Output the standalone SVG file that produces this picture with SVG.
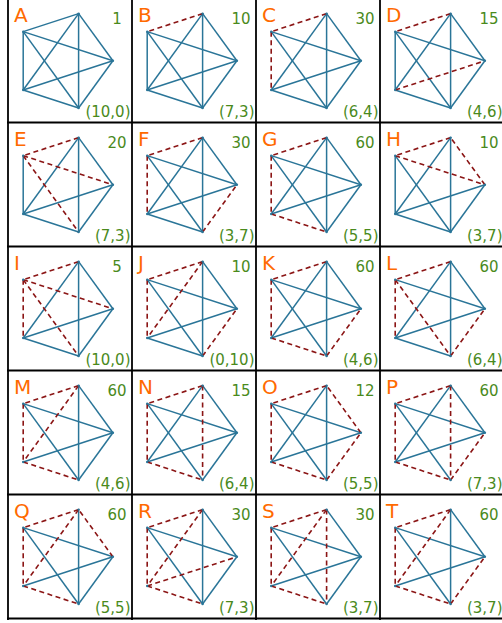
<svg xmlns="http://www.w3.org/2000/svg" xmlns:xlink="http://www.w3.org/1999/xlink" width="502" height="623" viewBox="0 0 502 623">
<style>
.grid line{stroke:#000;stroke-width:1.8}
.s{stroke:#2a7598;stroke-width:1.5;fill:none}
.d{stroke:#8b1515;stroke-width:1.6;stroke-dasharray:5 3.5;fill:none}
.lab{font-family:"DejaVu Sans",sans-serif;font-size:20px;fill:#ff6a00}
.num{font-family:"DejaVu Sans",sans-serif;font-size:15px;fill:#4a8a1c;text-anchor:middle}
.pr{font-family:"DejaVu Sans",sans-serif;font-size:15px;fill:#4a8a1c;text-anchor:end}
.v{fill:#2a7598}
</style>
<defs>
<line id="tu" x1="78.6" y1="13.6" x2="23.2" y2="31.65"/>
<line id="ul" x1="23.2" y1="31.65" x2="23.2" y2="89.95"/>
<line id="lb" x1="23.2" y1="89.95" x2="78.6" y2="108"/>
<line id="br" x1="78.6" y1="108" x2="112.9" y2="60.8"/>
<line id="rt" x1="112.9" y1="60.8" x2="78.6" y2="13.6"/>
<line id="tl" x1="78.6" y1="13.6" x2="23.2" y2="89.95"/>
<line id="tb" x1="78.6" y1="13.6" x2="78.6" y2="108"/>
<line id="ur" x1="23.2" y1="31.65" x2="112.9" y2="60.8"/>
<line id="uB" x1="23.2" y1="31.65" x2="78.6" y2="108"/>
<line id="lr" x1="23.2" y1="89.95" x2="112.9" y2="60.8"/>
<g id="dots" class="v">
<circle cx="78.6" cy="13.6" r="1.2"/><circle cx="23.2" cy="31.65" r="1.2"/><circle cx="23.2" cy="89.95" r="1.2"/><circle cx="78.6" cy="108" r="1.2"/><circle cx="112.9" cy="60.8" r="1.2"/>
</g>
</defs>
<rect width="502" height="623" fill="#fff"/>
<g class="grid">
<line x1="8" y1="-2" x2="8" y2="620"/>
<line x1="132" y1="-2" x2="132" y2="620"/>
<line x1="256" y1="-2" x2="256" y2="620"/>
<line x1="380" y1="-2" x2="380" y2="620"/>
<line x1="7" y1="122.5" x2="502" y2="122.5"/>
<line x1="7" y1="246.5" x2="502" y2="246.5"/>
<line x1="7" y1="370.5" x2="502" y2="370.5"/>
<line x1="7" y1="494.5" x2="502" y2="494.5"/>
<line x1="7" y1="618.5" x2="502" y2="618.5"/>
</g>

<g id="cell-A" transform="translate(0,0)">
<g class="edges"><use href="#tu" class="s"/><use href="#ul" class="s"/><use href="#lb" class="s"/><use href="#br" class="s"/><use href="#rt" class="s"/><use href="#tl" class="s"/><use href="#tb" class="s"/><use href="#ur" class="s"/><use href="#uB" class="s"/><use href="#lr" class="s"/></g>
<use href="#dots"/>
<text class="lab" x="14" y="22">A</text><text class="num" x="117" y="24">1</text><text class="pr" x="130.5" y="117">(10,0)</text>
</g>

<g id="cell-B" transform="translate(124,0)">
<g class="edges"><use href="#ul" class="s"/><use href="#lb" class="s"/><use href="#br" class="s"/><use href="#rt" class="s"/><use href="#tl" class="s"/><use href="#tb" class="s"/><use href="#ur" class="s"/><use href="#uB" class="s"/><use href="#lr" class="s"/><use href="#tu" class="d"/></g>
<use href="#dots"/>
<text class="lab" x="14" y="22">B</text><text class="num" x="117" y="24">10</text><text class="pr" x="130.5" y="117">(7,3)</text>
</g>

<g id="cell-C" transform="translate(248,0)">
<g class="edges"><use href="#lb" class="s"/><use href="#br" class="s"/><use href="#rt" class="s"/><use href="#tl" class="s"/><use href="#tb" class="s"/><use href="#ur" class="s"/><use href="#uB" class="s"/><use href="#lr" class="s"/><use href="#tu" class="d"/><use href="#ul" class="d"/></g>
<use href="#dots"/>
<text class="lab" x="14" y="22">C</text><text class="num" x="117" y="24">30</text><text class="pr" x="130.5" y="117">(6,4)</text>
</g>

<g id="cell-D" transform="translate(372,0)">
<g class="edges"><use href="#ul" class="s"/><use href="#lb" class="s"/><use href="#br" class="s"/><use href="#rt" class="s"/><use href="#tl" class="s"/><use href="#tb" class="s"/><use href="#ur" class="s"/><use href="#uB" class="s"/><use href="#tu" class="d"/><use href="#lr" class="d"/></g>
<use href="#dots"/>
<text class="lab" x="14" y="22">D</text><text class="num" x="117" y="24">15</text><text class="pr" x="130.5" y="117">(4,6)</text>
</g>

<g id="cell-E" transform="translate(0,124)">
<g class="edges"><use href="#ul" class="s"/><use href="#lb" class="s"/><use href="#br" class="s"/><use href="#rt" class="s"/><use href="#tl" class="s"/><use href="#tb" class="s"/><use href="#lr" class="s"/><use href="#tu" class="d"/><use href="#ur" class="d"/><use href="#uB" class="d"/></g>
<use href="#dots"/>
<text class="lab" x="14" y="22">E</text><text class="num" x="117" y="24">20</text><text class="pr" x="130.5" y="117">(7,3)</text>
</g>

<g id="cell-F" transform="translate(124,124)">
<g class="edges"><use href="#lb" class="s"/><use href="#rt" class="s"/><use href="#tl" class="s"/><use href="#tb" class="s"/><use href="#ur" class="s"/><use href="#uB" class="s"/><use href="#lr" class="s"/><use href="#tu" class="d"/><use href="#ul" class="d"/><use href="#br" class="d"/></g>
<use href="#dots"/>
<text class="lab" x="14" y="22">F</text><text class="num" x="117" y="24">30</text><text class="pr" x="130.5" y="117">(3,7)</text>
</g>

<g id="cell-G" transform="translate(248,124)">
<g class="edges"><use href="#br" class="s"/><use href="#rt" class="s"/><use href="#tl" class="s"/><use href="#tb" class="s"/><use href="#ur" class="s"/><use href="#uB" class="s"/><use href="#lr" class="s"/><use href="#tu" class="d"/><use href="#ul" class="d"/><use href="#lb" class="d"/></g>
<use href="#dots"/>
<text class="lab" x="14" y="22">G</text><text class="num" x="117" y="24">60</text><text class="pr" x="130.5" y="117">(5,5)</text>
</g>

<g id="cell-H" transform="translate(372,124)">
<g class="edges"><use href="#ul" class="s"/><use href="#lb" class="s"/><use href="#br" class="s"/><use href="#tl" class="s"/><use href="#tb" class="s"/><use href="#uB" class="s"/><use href="#lr" class="s"/><use href="#tu" class="d"/><use href="#ur" class="d"/><use href="#rt" class="d"/></g>
<use href="#dots"/>
<text class="lab" x="14" y="22">H</text><text class="num" x="117" y="24">10</text><text class="pr" x="130.5" y="117">(3,7)</text>
</g>

<g id="cell-I" transform="translate(0,248)">
<g class="edges"><use href="#lb" class="s"/><use href="#br" class="s"/><use href="#rt" class="s"/><use href="#tl" class="s"/><use href="#tb" class="s"/><use href="#lr" class="s"/><use href="#tu" class="d"/><use href="#ur" class="d"/><use href="#uB" class="d"/><use href="#ul" class="d"/></g>
<use href="#dots"/>
<text class="lab" x="14" y="22">I</text><text class="num" x="117" y="24">5</text><text class="pr" x="130.5" y="117">(10,0)</text>
</g>

<g id="cell-J" transform="translate(124,248)">
<g class="edges"><use href="#lb" class="s"/><use href="#rt" class="s"/><use href="#tb" class="s"/><use href="#ur" class="s"/><use href="#uB" class="s"/><use href="#lr" class="s"/><use href="#tu" class="d"/><use href="#ul" class="d"/><use href="#tl" class="d"/><use href="#br" class="d"/></g>
<use href="#dots"/>
<text class="lab" x="14" y="22">J</text><text class="num" x="117" y="24">10</text><text class="pr" x="130.5" y="117">(0,10)</text>
</g>

<g id="cell-K" transform="translate(248,248)">
<g class="edges"><use href="#rt" class="s"/><use href="#tl" class="s"/><use href="#tb" class="s"/><use href="#ur" class="s"/><use href="#uB" class="s"/><use href="#lr" class="s"/><use href="#tu" class="d"/><use href="#ul" class="d"/><use href="#lb" class="d"/><use href="#br" class="d"/></g>
<use href="#dots"/>
<text class="lab" x="14" y="22">K</text><text class="num" x="117" y="24">60</text><text class="pr" x="130.5" y="117">(4,6)</text>
</g>

<g id="cell-L" transform="translate(372,248)">
<g class="edges"><use href="#lb" class="s"/><use href="#rt" class="s"/><use href="#tl" class="s"/><use href="#tb" class="s"/><use href="#ur" class="s"/><use href="#lr" class="s"/><use href="#tu" class="d"/><use href="#ul" class="d"/><use href="#uB" class="d"/><use href="#br" class="d"/></g>
<use href="#dots"/>
<text class="lab" x="14" y="22">L</text><text class="num" x="117" y="24">60</text><text class="pr" x="130.5" y="117">(6,4)</text>
</g>

<g id="cell-M" transform="translate(0,372)">
<g class="edges"><use href="#br" class="s"/><use href="#rt" class="s"/><use href="#tb" class="s"/><use href="#ur" class="s"/><use href="#uB" class="s"/><use href="#lr" class="s"/><use href="#tu" class="d"/><use href="#tl" class="d"/><use href="#ul" class="d"/><use href="#lb" class="d"/></g>
<use href="#dots"/>
<text class="lab" x="14" y="22">M</text><text class="num" x="117" y="24">60</text><text class="pr" x="130.5" y="117">(4,6)</text>
</g>

<g id="cell-N" transform="translate(124,372)">
<g class="edges"><use href="#br" class="s"/><use href="#rt" class="s"/><use href="#tl" class="s"/><use href="#ur" class="s"/><use href="#uB" class="s"/><use href="#lr" class="s"/><use href="#tu" class="d"/><use href="#ul" class="d"/><use href="#tb" class="d"/><use href="#lb" class="d"/></g>
<use href="#dots"/>
<text class="lab" x="14" y="22">N</text><text class="num" x="117" y="24">15</text><text class="pr" x="130.5" y="117">(6,4)</text>
</g>

<g id="cell-O" transform="translate(248,372)">
<g class="edges"><use href="#tl" class="s"/><use href="#tb" class="s"/><use href="#ur" class="s"/><use href="#uB" class="s"/><use href="#lr" class="s"/><use href="#tu" class="d"/><use href="#ul" class="d"/><use href="#rt" class="d"/><use href="#br" class="d"/><use href="#lb" class="d"/></g>
<use href="#dots"/>
<text class="lab" x="14" y="22">O</text><text class="num" x="117" y="24">12</text><text class="pr" x="130.5" y="117">(5,5)</text>
</g>

<g id="cell-P" transform="translate(372,372)">
<g class="edges"><use href="#rt" class="s"/><use href="#tl" class="s"/><use href="#ur" class="s"/><use href="#uB" class="s"/><use href="#lr" class="s"/><use href="#tu" class="d"/><use href="#ul" class="d"/><use href="#tb" class="d"/><use href="#lb" class="d"/><use href="#br" class="d"/></g>
<use href="#dots"/>
<text class="lab" x="14" y="22">P</text><text class="num" x="117" y="24">60</text><text class="pr" x="130.5" y="117">(7,3)</text>
</g>

<g id="cell-Q" transform="translate(0,496)">
<g class="edges"><use href="#br" class="s"/><use href="#tb" class="s"/><use href="#ur" class="s"/><use href="#uB" class="s"/><use href="#lr" class="s"/><use href="#tu" class="d"/><use href="#ul" class="d"/><use href="#tl" class="d"/><use href="#lb" class="d"/><use href="#rt" class="d"/></g>
<use href="#dots"/>
<text class="lab" x="14" y="22">Q</text><text class="num" x="117" y="24">60</text><text class="pr" x="130.5" y="117">(5,5)</text>
</g>

<g id="cell-R" transform="translate(124,496)">
<g class="edges"><use href="#br" class="s"/><use href="#rt" class="s"/><use href="#tb" class="s"/><use href="#ur" class="s"/><use href="#uB" class="s"/><use href="#tu" class="d"/><use href="#ul" class="d"/><use href="#tl" class="d"/><use href="#lb" class="d"/><use href="#lr" class="d"/></g>
<use href="#dots"/>
<text class="lab" x="14" y="22">R</text><text class="num" x="117" y="24">30</text><text class="pr" x="130.5" y="117">(7,3)</text>
</g>

<g id="cell-S" transform="translate(248,496)">
<g class="edges"><use href="#br" class="s"/><use href="#rt" class="s"/><use href="#ur" class="s"/><use href="#uB" class="s"/><use href="#lr" class="s"/><use href="#tu" class="d"/><use href="#ul" class="d"/><use href="#tl" class="d"/><use href="#lb" class="d"/><use href="#tb" class="d"/></g>
<use href="#dots"/>
<text class="lab" x="14" y="22">S</text><text class="num" x="117" y="24">30</text><text class="pr" x="130.5" y="117">(3,7)</text>
</g>

<g id="cell-T" transform="translate(372,496)">
<g class="edges"><use href="#rt" class="s"/><use href="#tb" class="s"/><use href="#ur" class="s"/><use href="#uB" class="s"/><use href="#lr" class="s"/><use href="#tu" class="d"/><use href="#ul" class="d"/><use href="#tl" class="d"/><use href="#lb" class="d"/><use href="#br" class="d"/></g>
<use href="#dots"/>
<text class="lab" x="14" y="22">T</text><text class="num" x="117" y="24">60</text><text class="pr" x="130.5" y="117">(3,7)</text>
</g>
</svg>
